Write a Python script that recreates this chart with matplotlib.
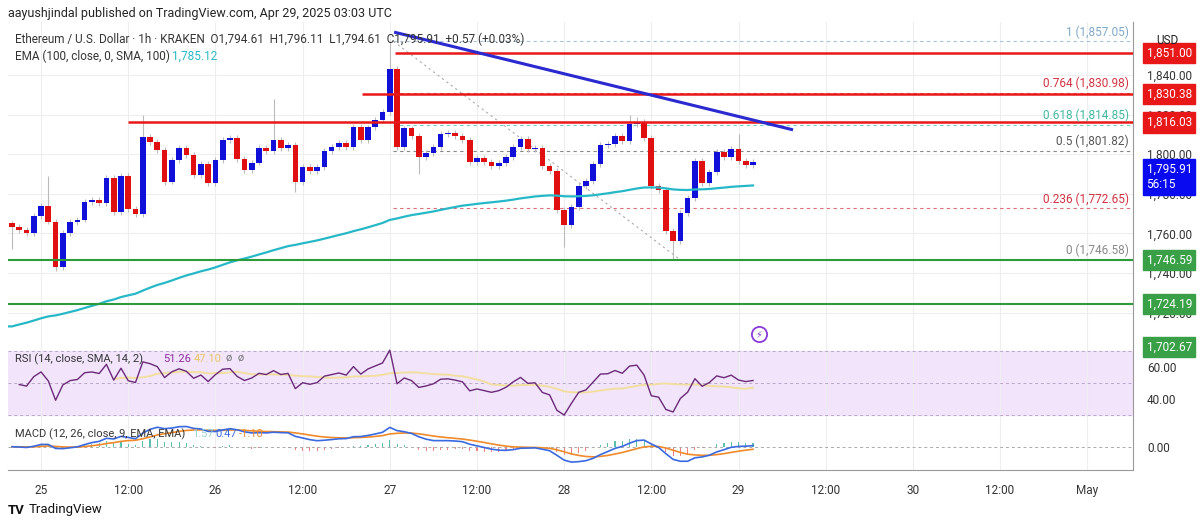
import numpy as np
import matplotlib.pyplot as plt

plt.rcParams["font.family"] = "Roboto"

# hourly closes, first candle at Apr 24 20:00 (hour -4 from Apr 25 00:00)
first_open = 1765.0
closes = [1763, 1761.5, 1760, 1769, 1774, 1766, 1743, 1760, 1765.6, 1767,
          1776, 1777, 1775.5, 1788, 1771, 1789, 1772.5, 1770, 1808.5, 1806,
          1802, 1786, 1797, 1803, 1799.5, 1789.5, 1795, 1785.5, 1797, 1807,
          1808, 1797.7, 1792, 1795.8, 1803, 1801.5, 1807.3, 1803, 1804.5, 1786,
          1793.5, 1791.5, 1793.5, 1801.5, 1803.5, 1805.5, 1803.5, 1814, 1807, 1813.5,
          1817.5, 1821.5, 1843, 1803.5, 1813, 1809, 1798.4, 1800.5, 1803.5, 1810,
          1810.5, 1809, 1807, 1796, 1798, 1796, 1794, 1795.5, 1798.5, 1803.5,
          1807.8, 1802.5, 1803, 1794, 1791.5, 1772, 1764, 1773.5, 1784, 1786.5,
          1795, 1804.6, 1805, 1809, 1806.5, 1815.3, 1816.5, 1808, 1784, 1782,
          1761.4, 1756.3, 1770.5, 1778, 1796.7, 1785.3, 1791, 1801.3, 1798.8, 1802.7,
          1796.5, 1794.5, 1795.91]
# notable wicks (candle index -> high / low)
wick_highs = {5: 1789, 18: 1820, 36: 1828, 52: 1857.05, 85: 1820, 86: 1819, 100: 1810}
wick_lows = {0: 1752, 6: 1741, 22: 1785, 39: 1781, 76: 1753, 91: 1746.58, 56: 1790}
ema_start = 1713.0

fib_levels = [1, 0.764, 0.618, 0.5, 0.236, 0]
fib_prices = [1857.05, 1830.98, 1814.85, 1801.82, 1772.65, 1746.58]
fib_colors = ["#7fa8c8", "#d0313f", "#3fb8a0", "#555555", "#d0313f", "#888888"]

price_ticks = [1720, 1740, 1760, 1780, 1800, 1820, 1840]
day_ticks = [0, 12, 24, 36, 48, 60, 72, 84, 96, 108, 120, 132, 144]
day_labels = ["25", "12:00", "26", "12:00", "27", "12:00", "28", "12:00", "29",
              "12:00", "30", "12:00", "May"]

W, H = 1200, 526
fig = plt.figure(figsize=(W / 100, H / 100), dpi=100)
fig.patch.set_facecolor("white")


def pane(x0, y0, x1, y1):
    return fig.add_axes([x0 / W, 1 - y1 / H, (x1 - x0) / W, (y1 - y0) / H])


def ftext(x, y, s, **kw):
    fig.text(x / W, 1 - y / H, s, va="center", **kw)


closes = np.array(closes)
n = len(closes)
hours = np.arange(n) - 4
opens = np.concatenate([[first_open], closes[:-1]])
highs = np.maximum(opens, closes) + 1.5
lows = np.minimum(opens, closes) - 1.5
for k, v in wick_highs.items():
    highs[k] = v
for k, v in wick_lows.items():
    lows[k] = v

xmin, xmax = -4.55, 150.3
grid_c = "#eeeeee"

ax = pane(8, 22, 1133, 345)
ax.set_xlim(xmin, xmax)
ax.set_ylim(1703.6, 1866.8)
for t in day_ticks:
    ax.axvline(t, color=grid_c, lw=0.8, zorder=0)
for p in price_ticks:
    ax.axhline(p, color=grid_c, lw=0.8, zorder=0)

up = closes >= opens
for i in range(n):
    c = "#1010d8" if up[i] else "#e01010"
    ax.vlines(hours[i], lows[i], highs[i], color="#bbbbbb", lw=0.8, zorder=2)
    lo, hi = min(opens[i], closes[i]), max(opens[i], closes[i])
    ax.bar(hours[i], max(hi - lo, 0.6), bottom=lo, width=0.78, color=c, lw=0, zorder=3)

# EMA 100 seeded from the visible starting level
alpha = 2 / 101
ema = [ema_start]
for c in closes[1:]:
    ema.append(ema[-1] + alpha * (c - ema[-1]))
ax.plot(np.concatenate([[xmin], hours]), [ema_start] + ema, color="#27b8c8", lw=1.6, zorder=4)

# horizontal levels
ax.hlines(1851, 48.7, xmax, color="#e81818", lw=1.8, zorder=5)
ax.hlines(1830.38, 44.2, xmax, color="#e81818", lw=1.8, zorder=5)
ax.hlines(1816.03, 12, xmax, color="#e81818", lw=1.8, zorder=5)
ax.hlines(1746.59, xmin, xmax, color="#2e9b3a", lw=1.5, zorder=5)
ax.hlines(1724.19, xmin, xmax, color="#2e9b3a", lw=1.5, zorder=5)

# fib retracement
for lv, pr, col in zip(fib_levels, fib_prices, fib_colors):
    ax.hlines(pr, 48.5, xmax, color=col, lw=0.8, ls=(0, (3, 3)), alpha=0.7, zorder=1)
    ax.text(149.7, pr + 1.4, f"{lv:g} ({pr:,.2f})", color=col, fontsize=8.5,
            ha="right", va="bottom", zorder=6)
ax.plot([48.5, 88], [1857.05, 1746.58], color="#aaaaaa", lw=0.8, ls=(0, (2, 3)), zorder=1)

# trendline
ax.plot([48.8, 103.3], [1861.5, 1812.5], color="#2a2ad0", lw=2.2, zorder=6)
ax.scatter([98.8], [1709], s=120, facecolor="white", edgecolor="#8a3ad8", lw=1.3, zorder=6)
ax.text(98.8, 1709, "⚡", color="#8a3ad8", fontsize=7, ha="center", va="center",
        fontfamily="DejaVu Sans", zorder=7)

ax.set_xticks([])
ax.yaxis.tick_right()
ax.set_yticks(price_ticks)
ax.set_yticklabels([f"{p:,.2f}" for p in price_ticks], fontsize=8.5, color="#333333")
ax.tick_params(axis="y", length=0, pad=10)
for s in ["top", "left", "bottom"]:
    ax.spines[s].set_visible(False)
ax.spines["right"].set_color("#999999")

tags = [(1851, "1,851.00", "#e81818"), (1830.38, "1,830.38", "#e81818"),
        (1816.03, "1,816.03", "#e81818"), (1746.59, "1,746.59", "#3aa048"),
        (1724.19, "1,724.19", "#3aa048"), (1702.67, "1,702.67", "#3aa048")]
for pr, txt, col in tags:
    ax.text(1.012, pr, txt, transform=ax.get_yaxis_transform(), fontsize=8.5, color="white",
            va="center", ha="left", clip_on=False,
            bbox=dict(boxstyle="square,pad=0.3", fc=col, ec=col))
ax.text(1.012, 1795.91, "1,795.91\n56:15", transform=ax.get_yaxis_transform(), fontsize=8.5,
        color="white", va="top", ha="left", clip_on=False, linespacing=1.3,
        bbox=dict(boxstyle="square,pad=0.3", fc="#0a0af0", ec="#0a0af0"))
ftext(1156, 40, "USD", fontsize=8.5, color="#222222")

# RSI
delta = np.diff(closes)
gain = np.where(delta > 0, delta, 0.0)
loss = np.where(delta < 0, -delta, 0.0)
ag, al = 3.0, 3.0
rsi = []
for g, l in zip(gain, loss):
    ag = (ag * 13 + g) / 14
    al = (al * 13 + l) / 14
    rsi.append(100 - 100 / (1 + ag / al))
rsi = np.array(rsi)
rsi_ma = np.convolve(rsi, np.ones(14) / 14, mode="full")[:len(rsi)]
rsi_ma[:13] = np.nan

ar = pane(8, 345, 1133, 420)
ar.set_xlim(xmin, xmax)
ar.set_ylim(26.9, 73.75)
ar.axhspan(30, 70, color="#f1e4fb", zorder=0)
for lv in (30, 50, 70):
    ar.axhline(lv, color="#b9a6c8", lw=0.7, ls=(0, (3, 3)), zorder=1)
for t in day_ticks:
    ar.axvline(t, color=grid_c, lw=0.8, zorder=0)
ar.plot(hours[1:], rsi_ma, color="#f2dfa0", lw=1.4)
ar.plot(hours[1:], rsi, color="#6a2a78", lw=1.0)
ar.yaxis.tick_right()
ar.set_yticks([40, 60])
ar.set_yticklabels(["40.00", "60.00"], fontsize=8.5, color="#333333")
ar.tick_params(axis="y", length=0, pad=10)
ar.set_xticks([])
for s in ["top", "left", "bottom"]:
    ar.spines[s].set_visible(False)
ar.spines["right"].set_color("#999999")
ftext(15, 359, "RSI (14, close, SMA, 14, 2)", fontsize=8, color="#333333")
ftext(163, 359, "51.26", fontsize=8, color="#8a2aa0")
ftext(194, 359, "47.10", fontsize=8, color="#e8c860")
ftext(226, 359, "ø  ø", fontsize=8, color="#777777")

# MACD
def ema_series(x, span):
    a = 2 / (span + 1)
    out = [x[0]]
    for v in x[1:]:
        out.append(out[-1] + a * (v - out[-1]))
    return np.array(out)

macd = ema_series(closes, 12) - ema_series(closes, 26)
signal = ema_series(macd, 9)
hist = macd - signal

am = pane(8, 420, 1133, 470)
am.set_xlim(xmin, xmax)
lim = np.abs(np.concatenate([macd, signal])).max() * 1.15
am.set_ylim(-lim * 1.0, lim * 1.15)
am.axhline(0, color="#aaaaaa", lw=0.7, ls=(0, (3, 3)))
for t in day_ticks:
    am.axvline(t, color=grid_c, lw=0.8, zorder=0)
am.bar(hours, hist, width=0.15, color=np.where(hist >= 0, "#5bbfb0", "#f08080"))
am.plot(hours, signal, color="#f08a2a", lw=1.2)
am.plot(hours, macd, color="#3a6ae0", lw=1.2)
am.yaxis.tick_right()
am.set_yticks([0])
am.set_yticklabels(["0.00"], fontsize=8.5, color="#333333")
am.tick_params(axis="y", length=0, pad=10)
am.set_xticks(day_ticks)
am.set_xticklabels(day_labels, fontsize=8.5, color="#333333")
am.tick_params(axis="x", length=0, pad=10)
for s in ["top", "left"]:
    am.spines[s].set_visible(False)
am.spines["right"].set_color("#999999")
am.spines["bottom"].set_color("#999999")
ftext(15, 434, "MACD (12, 26, close, 9, EMA, EMA)", fontsize=8, color="#333333")
ftext(192, 434, "1.57", fontsize=8, color="#9ad0d0")
ftext(215, 434, "0.47", fontsize=8, color="#3a6ae0")
ftext(239, 434, "-1.10", fontsize=8, color="#f08a2a")

# header / footer
ftext(8, 13, "aayushjindal published on TradingView.com, Apr 29, 2025 03:03 UTC",
      fontsize=9, color="#222222")
ftext(15, 39, "Ethereum / U.S. Dollar · 1h · KRAKEN  O1,794.61  H1,796.11  L1,794.61  C1,795.91  +0.57 (+0.03%)",
      fontsize=8.5, color="#333333")
ftext(15, 56, "EMA (100, close, 0, SMA, 100)", fontsize=8.5, color="#333333")
ftext(172, 56, "1,785.12", fontsize=8.5, color="#27b8c8")
ftext(8, 510, "TV", fontsize=9.5, color="#111111", fontweight="bold")
ftext(29, 510, "TradingView", fontsize=9.5, color="#111111")

fig.savefig("out.png", dpi=100)
